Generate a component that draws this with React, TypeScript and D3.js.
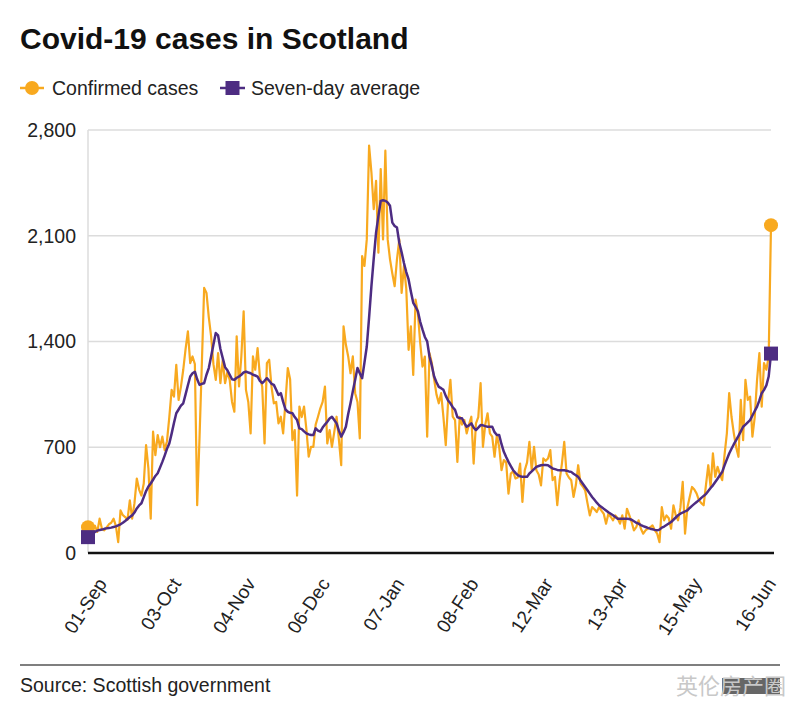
import * as d3 from "d3";

const START = "2020-09-01";
const TICK_DATES = [
  "2020-09-01", "2020-10-03", "2020-11-04", "2020-12-06", "2021-01-07",
  "2021-02-08", "2021-03-12", "2021-04-13", "2021-05-15", "2021-06-16",
];
const Y_TICKS = [0, 700, 1400, 2100, 2800];

// daily confirmed cases from 1 Sep 2020
const cases = [
  170, 120, 150, 180, 140, 227, 160, 150, 170, 190,
  200, 227, 180, 72, 282, 250, 238, 220, 349, 227,
  330, 493, 420, 380, 460, 714, 560, 227, 803, 648,
  781, 700, 770, 681, 740, 900, 1080, 1035, 1246, 1013,
  1100, 1213, 1350, 1467, 1257, 1301, 1250, 316, 760, 1250,
  1755, 1722, 1560, 1434, 1250, 1146, 1323, 1124, 1279, 1124,
  1200, 1146, 1000, 935, 1434, 1102, 1300, 1600, 1080, 1000,
  792, 1301, 1213, 1357, 1168, 1100, 725, 1257, 1279, 1100,
  991, 1000, 858, 902, 792, 1000, 1224, 1150, 747, 814,
  380, 969, 900, 969, 820, 637, 703, 703, 850, 902,
  958, 1000, 1102, 725, 814, 703, 800, 902, 750, 581,
  1500, 1380, 1301, 1190, 1301, 1058, 1000, 759, 1966, 1900,
  2076, 2697, 2520, 2276, 2464, 1988, 2541, 2076, 2663, 2076,
  1944, 1850, 1766, 1944, 2076, 1722, 1900, 1750, 1345, 1500,
  1179, 1677, 1589, 1390, 1234, 1300, 770, 1323, 1257, 1150,
  1050, 991, 1058, 900, 714, 1000, 1146, 902, 880, 603,
  902, 850, 880, 792, 850, 902, 592, 858, 900, 1124,
  703, 850, 925, 792, 770, 637, 781, 700, 548, 615,
  600, 393, 526, 540, 493, 500, 592, 338, 548, 600,
  736, 548, 703, 548, 520, 448, 626, 610, 626, 681,
  482, 504, 316, 480, 592, 736, 526, 500, 482, 371,
  450, 581, 460, 440, 415, 330, 249, 304, 290, 271,
  304, 280, 260, 194, 260, 240, 216, 249, 230, 194,
  249, 161, 293, 250, 205, 150, 171, 216, 160, 128,
  150, 161, 170, 183, 150, 128, 72, 304, 216, 249,
  230, 161, 316, 250, 216, 300, 471, 128, 300, 371,
  437, 420, 393, 349, 330, 316, 450, 581, 437, 659,
  504, 570, 520, 482, 650, 792, 1058, 902, 792, 700,
  637, 1013, 747, 1146, 1013, 1035, 770, 900, 1146, 1323,
  969, 1257, 1213, 1300, 2170,
];

// seven-day average
const average = [
  105, 115, 125, 140, 148, 152, 155, 160, 163, 166,
  168, 172, 176, 183, 190, 200, 212, 225, 238, 249,
  268, 295, 315, 329, 370, 410, 440, 460, 485, 510,
  528, 565, 603, 645, 690, 725, 790, 860, 925, 950,
  975, 991, 1050, 1110, 1168, 1190, 1200, 1150, 1113, 1120,
  1124, 1180, 1224, 1301, 1380, 1456, 1440, 1350, 1290, 1230,
  1210, 1180, 1150, 1146, 1160, 1168, 1180, 1195, 1201, 1195,
  1190, 1180, 1175, 1168, 1140, 1124, 1140, 1157, 1140, 1120,
  1113, 1080, 1046, 1058, 1000, 950, 935, 928, 925, 900,
  880, 825, 820, 805, 792, 785, 781, 781, 825, 810,
  803, 830, 850, 869, 890, 902, 880, 858, 810, 770,
  800, 836, 920, 991, 1070, 1146, 1224, 1190, 1157, 1260,
  1367, 1560, 1766, 1950, 2121, 2230, 2331, 2335, 2331, 2320,
  2298, 2187, 2165, 2154, 2054, 1990, 1920, 1860, 1811, 1730,
  1656, 1630, 1600, 1530, 1478, 1430, 1401, 1301, 1240, 1168,
  1130, 1100, 1091, 1080, 1040, 1010, 991, 965, 947, 900,
  892, 892, 860, 836, 845, 858, 830, 814, 830, 847,
  845, 840, 836, 836, 836, 800, 781, 781, 720, 670,
  635, 603, 575, 548, 530, 515, 508, 504, 504, 504,
  526, 540, 555, 570, 576, 581, 583, 582, 581, 570,
  559, 555, 550, 548, 548, 548, 545, 540, 537, 525,
  515, 504, 480, 458, 437, 415, 393, 371, 352, 333,
  316, 305, 293, 282, 270, 260, 250, 238, 227, 227,
  227, 227, 227, 225, 220, 210, 200, 194, 185, 178,
  172, 166, 161, 157, 153, 150, 155, 168, 175, 185,
  195, 205, 220, 235, 250, 260, 268, 275, 282, 298,
  312, 325, 338, 350, 365, 378, 390, 410, 430, 448,
  470, 492, 515, 537, 580, 620, 659, 690, 720, 747,
  775, 805, 836, 850, 865, 880, 910, 940, 969, 1010,
  1058, 1080, 1110, 1168, 1320,
];

const ORANGE = "#f8a91f";
const PURPLE = "#4d2c82";
const GRID = "#dcdcdc";
const TEXT = "#222222";
const FONT = "'Liberation Sans', Arial, Helvetica, sans-serif";

export default function App() {
  const width = 800;
  const height = 721;
  const plot = { left: 88, right: 771, top: 130, bottom: 553 };

  const parse = d3.utcParse("%Y-%m-%d");
  const start = parse(START) as Date;
  const dates = cases.map((_, i) => d3.utcDay.offset(start, i));
  const ticks = TICK_DATES.map((s) => parse(s) as Date);
  const fmt = d3.utcFormat("%d-%b");
  const yFmt = d3.format(",");

  const x = d3.scaleUtc().domain([start, dates[dates.length - 1]]).range([plot.left, plot.right]);
  const y = d3.scaleLinear().domain([0, 2800]).range([plot.bottom, plot.top]);

  const line = d3.line<number>().x((_, i) => x(dates[i])).y((d) => y(d));

  const first = 0;
  const last = cases.length - 1;
  const sq = 14;

  return (
    <svg
      width={width}
      height={height}
      style={{ position: "absolute", left: 0, top: 0, background: "#fff" }}
      fontFamily={FONT}
    >
      <rect width={width} height={height} fill="#fff" />
      <text x={20} y={49} fontSize={30} fontWeight="bold" fill="#111">
        Covid-19 cases in Scotland
      </text>

      {/* legend */}
      <g>
        <line x1={20} x2={44} y1={88} y2={88} stroke={ORANGE} strokeWidth={2.5} />
        <circle cx={32} cy={88} r={7} fill={ORANGE} />
        <text x={52} y={88} dy="0.35em" fontSize={19.5} fill={TEXT}>Confirmed cases</text>
        <line x1={220} x2={245} y1={88} y2={88} stroke={PURPLE} strokeWidth={2.5} />
        <rect x={232.5 - sq / 2} y={88 - sq / 2} width={sq} height={sq} fill={PURPLE} />
        <text x={251} y={88} dy="0.35em" fontSize={19.5} fill={TEXT}>Seven-day average</text>
      </g>

      {/* grid */}
      <line x1={plot.left} x2={plot.left} y1={plot.top} y2={plot.bottom} stroke={GRID} strokeWidth={1.5} />
      {Y_TICKS.map((t) => (
        <g key={t}>
          {t > 0 && (
            <line x1={plot.left} x2={plot.right} y1={y(t)} y2={y(t)} stroke={GRID} strokeWidth={1.5} />
          )}
          <text x={76} y={y(t)} dy="0.35em" textAnchor="end" fontSize={19.5} fill={TEXT}>
            {yFmt(t)}
          </text>
        </g>
      ))}

      {/* x labels */}
      {ticks.map((t) => (
        <text
          key={+t}
          transform={`translate(${x(t) + 14},${580}) rotate(-57)`}
          dy="0.35em"
          textAnchor="end"
          fontSize={19}
          fill={TEXT}
        >
          {fmt(t)}
        </text>
      ))}

      {/* series */}
      <path d={line(cases) ?? ""} fill="none" stroke={ORANGE} strokeWidth={2.2} strokeLinejoin="round" />
      <path d={line(average) ?? ""} fill="none" stroke={PURPLE} strokeWidth={2.5} strokeLinejoin="round" />

      <line x1={plot.left} x2={plot.right + 3} y1={plot.bottom} y2={plot.bottom} stroke="#111" strokeWidth={2.5} />

      {[first, last].map((i) => (
        <circle key={"c" + i} cx={x(dates[i])} cy={y(cases[i])} r={7} fill={ORANGE} />
      ))}
      {[first, last].map((i) => (
        <rect
          key={"s" + i}
          x={x(dates[i]) - sq / 2}
          y={y(average[i]) - sq / 2}
          width={sq}
          height={sq}
          fill={PURPLE}
        />
      ))}

      {/* footer */}
      <line x1={20} x2={780} y1={665} y2={665} stroke="#555" strokeWidth={1.5} />
      <text x={20} y={685} dy="0.35em" fontSize={19.5} fill={TEXT}>Source: Scottish government</text>
      <rect x={722} y={678} width={58} height={16} fill="#666" />
      <text x={676} y={686} dy="0.35em" fontSize={22} fill="#c8c8c8" fontFamily="'Noto Sans CJK SC', sans-serif">
        英伦房产圈
      </text>
    </svg>
  );
}
